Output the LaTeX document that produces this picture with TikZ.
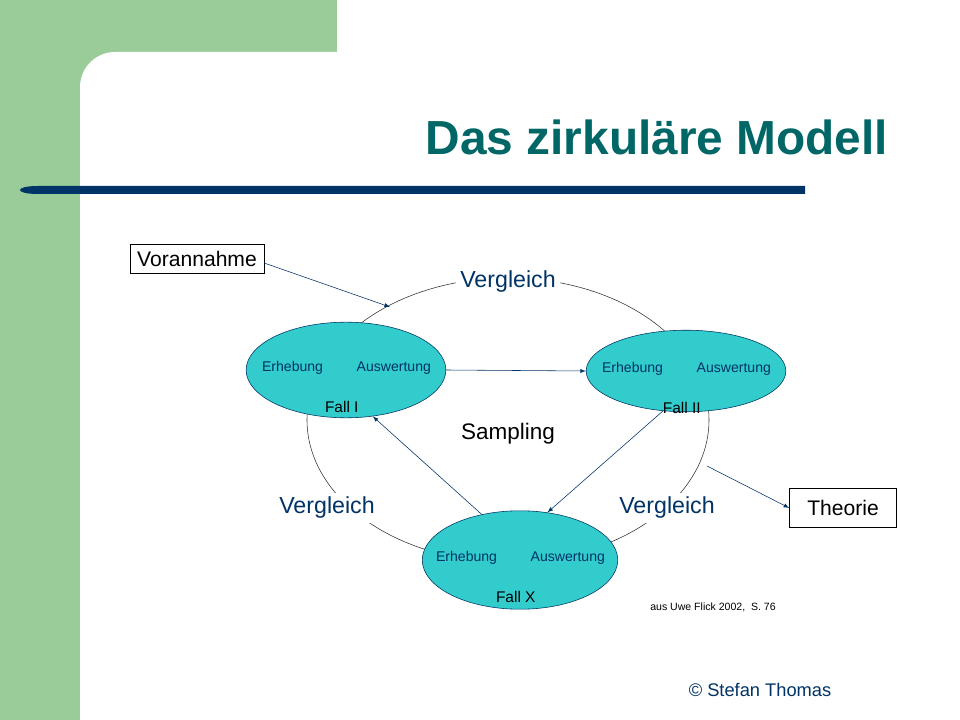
\documentclass[tikz,border=0pt]{standalone}
\usepackage{fontspec}
\setmainfont{Liberation Sans}
\usetikzlibrary{shapes.geometric}
\definecolor{navy}{HTML}{003366}
\definecolor{teal}{HTML}{006666}
\definecolor{leaf}{HTML}{99CC99}
\definecolor{cyanfill}{HTML}{33CCCC}
\tikzset{
	fall/.style={ellipse, draw=navy, fill=cyanfill, minimum width=142pt, minimum height=68pt, inner sep=0pt},
	small/.style={font=\fontsize{10}{12}\selectfont, text=navy},
	vgl/.style={fill=white, text=navy, font=\fontsize{16.5}{19}\selectfont, inner sep=3pt},
	box/.style={draw, fill=white, font=\fontsize{15}{17}\selectfont, inner sep=5pt},
	arr/.style={->, >={latex[scale=1.3]}, navy},
}
\begin{document}
\begin{tikzpicture}[x=0.025cm, y=-0.025cm]
	\useasboundingbox (0,0) rectangle (960,720);
	\fill[white] (0,0) rectangle (960,720);
	\fill[leaf] (0,0) rectangle (337,52);
	\fill[leaf] (0,0) rectangle (80,720);
	\fill[leaf] (80,52) rectangle (130,110);
	\fill[white, rounded corners=25] (80,52) rectangle (1000,760);
	\fill[navy] (805,186) -- (38,186) .. controls (14,186) and (14,194) .. (38,194) -- (805,194) -- cycle;
	\node[anchor=base east, text=teal, font=\bfseries\fontsize{34}{38}\selectfont] (title) at (893,155) {Das zirkuläre Modell};
	% circle
	\draw[black!80] (508,420) ellipse [x radius=201, y radius=142];
	\node[vgl] (v1) at (508,282) {Vergleich};
	\node[vgl] (v2) at (327,508) {Vergleich};
	\node[vgl] (v3) at (667,508) {Vergleich};
	\node[font=\fontsize{16}{19}\selectfont] (samp) at (508,434) {Sampling};
	% cases
	\node[fall] (f1) at (346,370) {};
	\node[fall, minimum height=58pt] (f2) at (686,371) {};
	\node[fall, minimum width=139pt, minimum height=70pt] (fx) at (520,560) {};
	\foreach \n/\t in {f1/Fall I, f2/Fall II, fx/Fall X} {
		\node[small] at ([xshift=-38pt,yshift=1.4pt]\n.center) {Erhebung};
		\node[small] at ([xshift=34pt,yshift=1.4pt]\n.center) {Auswertung};
		\node[font=\fontsize{11}{13}\selectfont] at ([xshift=-3pt,yshift=-26pt]\n.center) {\t};
	}
	\node[box] (vor) at (197,259) {Vorannahme};
	\node[box, minimum width=76pt, minimum height=28pt, inner sep=0pt] (theo) at (843,508) {Theorie};
	\coordinate (c1) at (390,307);
	\coordinate (c2) at (707,466);
	\draw[arr] (vor.east) ++(0,4) -- (c1);
	\draw[arr] (f1.east) -- (f2.west);
	\draw[arr] (fx.130) -- (f1.-60);
	\draw[arr] (f2.-120) -- (fx.60);
	\draw[arr] (c2) -- (theo.west);
	\node[font=\fontsize{7.5}{9}\selectfont] (src) at (713,607) {aus Uwe Flick 2002,\; S. 76};
	\node[text=navy, font=\fontsize{13}{15}\selectfont] (copy) at (760,690) {© Stefan Thomas};
\end{tikzpicture}
\end{document}
